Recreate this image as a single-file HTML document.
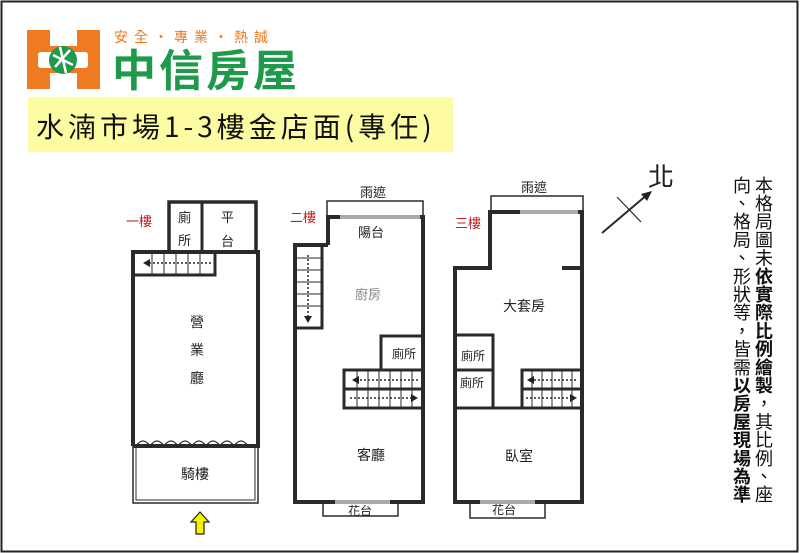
<!DOCTYPE html>
<html><head><meta charset="utf-8"><style>
html,body{margin:0;padding:0;background:#fff}
.wrap{position:relative;width:800px;height:553px;overflow:hidden;font-family:"Liberation Sans","Noto Sans CJK TC",sans-serif}
.v{position:absolute;writing-mode:vertical-rl;font-size:18px;line-height:22px;color:#111;font-family:"Liberation Sans","Noto Sans CJK TC",sans-serif;letter-spacing:0.2px}
</style></head><body><div class="wrap">
<svg width="800" height="553" viewBox="0 0 800 553" style="position:absolute;left:0;top:0">
<rect x="1.5" y="1.5" width="796" height="550" fill="none" stroke="#222" stroke-width="2"/>
<!-- logo -->
<rect x="27" y="30" width="73" height="59" fill="#ef7a22"/>
<rect x="50" y="30" width="27" height="16" fill="#fff"/>
<rect x="50" y="73" width="27" height="16" fill="#fff"/>
<rect x="38" y="52" width="50" height="16" fill="#fff" rx="3"/>
<circle cx="63" cy="60" r="14" fill="#1f9a4a"/>
<path d="M53 55 L73 65 M55 67 L70 50 M60 47 L66 73" stroke="#fff" stroke-width="2.5" fill="none"/>
<text x="114" y="42" font-size="14" fill="#ef7a22" font-family="Noto Sans CJK TC,sans-serif" letter-spacing="6">安全・專業・熱誠</text>
<text x="112" y="86" font-size="44" fill="#1f9a4a" font-weight="bold" font-family="Noto Sans CJK TC,sans-serif" letter-spacing="3">中信房屋</text>
<rect x="28" y="97" width="425" height="55" fill="#fdfca3"/>
<text x="36" y="137" font-size="28" fill="#111" font-family="Noto Sans CJK TC,sans-serif" letter-spacing="4">水湳市場1-3樓金店面(專任)</text>

<g stroke="#2a2a2a" fill="none">
<!-- Floor 1 -->
<rect x="133" y="446" width="125" height="57" stroke-width="1.5"/>
<rect x="136" y="446" width="119" height="54" stroke-width="1"/>
<path d="M133 446 V252 H258 V446 H133" stroke-width="4"/>
<path d="M169 252 V202 H256 V252" stroke-width="3.5"/>
<line x1="202" y1="202" x2="202" y2="252" stroke-width="3"/>
<rect x="133" y="252" width="82" height="23" stroke-width="3"/>
<path d="M152 252v23M164 252v23M176 252v23M188 252v23M200 252v23" stroke-width="1"/>
<line x1="145" y1="263" x2="212" y2="263" stroke-width="1.5" stroke-dasharray="2 2"/>
<path d="M136 446 q7 -10 14 0 q7 -10 14 0 q7 -10 14 0 q7 -10 14 0 q7 -10 14 0 q7 -10 14 0 q7 -10 14 0 q7 -10 14 0" stroke-width="1.2"/>
<!-- Floor 2 -->
<rect x="327" y="201" width="96" height="16" stroke-width="1.5"/>
<path d="M328 245 V217 H423 V502 H295 V245 H328" stroke-width="4"/>
<rect x="295" y="245" width="27" height="83" stroke-width="3"/>
<path d="M295 258h27M295 270h27M295 282h27M295 294h27M295 306h27" stroke-width="1"/>
<line x1="308" y1="255" x2="308" y2="318" stroke-width="1.5" stroke-dasharray="2 2"/>
<path d="M381 370 V336 H423" stroke-width="3"/>
<rect x="344" y="370" width="79" height="19" stroke-width="3"/>
<rect x="344" y="389" width="79" height="19" stroke-width="3"/>
<path d="M357 370v38M368 370v38M379 370v38M390 370v38M401 370v38M412 370v38" stroke-width="1"/>
<path d="M356 380h62M350 398h62" stroke-width="1.5" stroke-dasharray="2 2"/>
<rect x="323" y="502" width="75" height="14" stroke-width="1.5"/>
<line x1="335" y1="502" x2="390" y2="502" stroke="#aaa" stroke-width="4"/>
<line x1="340" y1="217" x2="420" y2="217" stroke="#aaa" stroke-width="4"/>
<!-- Floor 3 -->
<rect x="491" y="196" width="92" height="16" stroke-width="1.5"/>
<path d="M522 212 H490 V268 H455 V502 H582 V212 H560" stroke-width="4"/>
<line x1="562" y1="268" x2="582" y2="268" stroke-width="4"/>
<line x1="520" y1="212" x2="578" y2="212" stroke="#aaa" stroke-width="4"/>
<path d="M455 335 H493 V370 H455 M455 408 H582 M493 370 V408" stroke-width="3"/>
<rect x="522" y="370" width="60" height="19" stroke-width="3"/>
<rect x="522" y="389" width="60" height="19" stroke-width="3"/>
<path d="M532 370v38M542 370v38M552 370v38M562 370v38M572 370v38" stroke-width="1"/>
<path d="M530 380h48M526 398h48" stroke-width="1.5" stroke-dasharray="2 2"/>
<rect x="470" y="502" width="75" height="16" stroke-width="1.5"/>
<line x1="480" y1="502" x2="535" y2="502" stroke="#aaa" stroke-width="4"/>
<!-- north -->
<line x1="602" y1="233" x2="648" y2="194" stroke-width="2"/>
<line x1="617" y1="197" x2="641" y2="222" stroke-width="1.2"/>
</g>
<polygon points="652,191 641,194 647,201" fill="#222"/>
<polygon points="143,263 150,259 150,267" fill="#222"/>
<polygon points="304,316 312,316 308,323" fill="#222"/>
<polygon points="352,380 359,376 359,384" fill="#222"/>
<polygon points="418,398 411,394 411,402" fill="#222"/>
<polygon points="527,380 534,376 534,384" fill="#222"/>
<polygon points="577,398 570,394 570,402" fill="#222"/>
<polygon points="200,512 209,522 204,522 204,534 196,534 196,522 191,522" fill="#f6f300" stroke="#222" stroke-width="1.2"/>
<g font-family="Noto Sans CJK TC,sans-serif" fill="#222" font-size="13">
<text x="126" y="226" fill="#b22">一樓</text>
<text x="290" y="222" fill="#b22">二樓</text>
<text x="455" y="228" fill="#b22">三樓</text>
<text x="178" y="222">廁</text><text x="178" y="245">所</text>
<text x="221" y="222">平</text><text x="221" y="246">台</text>
<text x="190" y="327" font-size="14">營</text>
<text x="190" y="355" font-size="14">業</text>
<text x="190" y="383" font-size="14">廳</text>
<text x="181" y="479" font-size="14">騎樓</text>
<text x="360" y="197">雨遮</text>
<text x="358" y="237">陽台</text>
<text x="355" y="299" fill="#888">廚房</text>
<text x="392" y="358" font-size="12">廁所</text>
<text x="357" y="460" font-size="14">客廳</text>
<text x="348" y="515" font-size="12">花台</text>
<text x="521" y="192">雨遮</text>
<text x="503" y="311" font-size="14">大套房</text>
<text x="461" y="360" font-size="12">廁所</text>
<text x="460" y="387" font-size="12">廁所</text>
<text x="505" y="461" font-size="14">臥室</text>
<text x="492" y="514" font-size="12">花台</text>
<text x="648" y="186" font-size="26">北</text>
</g>
</svg>
<div class="v" style="left:752px;top:176px">本格局圖未<b>依實際比例繪製</b>，其比例、座</div>
<div class="v" style="left:730px;top:176px">向、格局、形狀等，皆需<b>以房屋現場為準</b></div>
</div></body></html>
